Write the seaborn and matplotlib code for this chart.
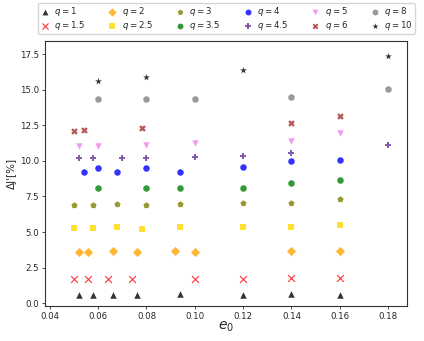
import matplotlib
matplotlib.use("Agg")
import matplotlib.pyplot as plt
import seaborn as sns

# Data (e0 -> Delta J' in %)
e_q1 = [0.052, 0.058, 0.066, 0.076, 0.094, 0.12, 0.14, 0.16]
dj_q1 = [0.60, 0.60, 0.60, 0.60, 0.62, 0.60, 0.65, 0.60]

e_q15 = [0.050, 0.056, 0.064, 0.074, 0.100, 0.12, 0.14, 0.16]
dj_q15 = [1.70, 1.70, 1.70, 1.70, 1.70, 1.70, 1.76, 1.73]

e_q2 = [0.052, 0.056, 0.066, 0.076, 0.092, 0.100, 0.14, 0.16]
dj_q2 = [3.59, 3.59, 3.63, 3.56, 3.63, 3.59, 3.68, 3.68]

e_q25 = [0.050, 0.058, 0.068, 0.078, 0.094, 0.12, 0.14, 0.16]
dj_q25 = [5.25, 5.25, 5.32, 5.23, 5.34, 5.32, 5.32, 5.51]

e_q3 = [0.050, 0.058, 0.068, 0.080, 0.094, 0.12, 0.14, 0.16]
dj_q3 = [6.91, 6.91, 6.96, 6.91, 6.98, 7.03, 7.05, 7.31]

e_q35 = [0.060, 0.080, 0.094, 0.12, 0.14, 0.16]
dj_q35 = [8.09, 8.11, 8.13, 8.11, 8.46, 8.69]

e_q4 = [0.054, 0.060, 0.068, 0.080, 0.094, 0.12, 0.14, 0.16]
dj_q4 = [9.21, 9.51, 9.21, 9.54, 9.21, 9.56, 9.99, 10.06]

e_q45 = [0.052, 0.058, 0.070, 0.080, 0.100, 0.12, 0.14, 0.18]
dj_q45 = [10.22, 10.22, 10.22, 10.22, 10.27, 10.36, 10.55, 11.11]

e_q5 = [0.052, 0.060, 0.080, 0.100, 0.14, 0.16]
dj_q5 = [11.06, 11.06, 11.15, 11.25, 11.43, 11.95]

e_q6 = [0.050, 0.054, 0.078, 0.14, 0.16]
dj_q6 = [12.10, 12.17, 12.33, 12.66, 13.17]

e_q8 = [0.060, 0.080, 0.100, 0.14, 0.18]
dj_q8 = [14.39, 14.35, 14.37, 14.49, 15.05]

e_q10 = [0.060, 0.080, 0.12, 0.18]
dj_q10 = [15.63, 15.89, 16.41, 17.41]

q_labels = ["1", "1.5", "2", "2.5", "3", "3.5", "4", "4.5", "5", "6", "8", "10"]

series = [
    (e_q1, dj_q1, "^", "black"),
    (e_q15, dj_q15, "x", "red"),
    (e_q2, dj_q2, "D", "orange"),
    (e_q25, dj_q25, "s", "gold"),
    (e_q3, dj_q3, "p", "olive"),
    (e_q35, dj_q35, "o", "green"),
    (e_q4, dj_q4, "o", "blue"),
    (e_q45, dj_q45, "P", "rebeccapurple"),
    (e_q5, dj_q5, "v", "violet"),
    (e_q6, dj_q6, "X", "brown"),
    (e_q8, dj_q8, "o", "gray"),
    (e_q10, dj_q10, "*", "black"),
]

sns.set_theme(style="ticks")
plt.rcParams['font.family'] = ['DejaVu Sans']

fig, ax = plt.subplots(figsize=(4.24, 3.41), dpi=100)
fig.subplots_adjust(left=0.106, right=0.961, bottom=0.103, top=0.88)

for (ex, dj, mk, col), ql in zip(series, q_labels):
    size = 22
    if mk == "*":
        size = 26
    if mk in ("x",):
        size = 24
    sns.scatterplot(x=ex, y=dj, marker=mk, color=col, s=size, alpha=0.8,
                    linewidth=0.8 if mk == "x" else 0, ax=ax, label=f"$q = {ql}$")

ax.set_xlim(0.038, 0.188)
ax.set_ylim(-0.2, 18.45)
ax.set_xticks([0.04, 0.06, 0.08, 0.10, 0.12, 0.14, 0.16, 0.18])
ax.set_xticklabels(["0.04", "0.06", "0.08", "0.10", "0.12", "0.14", "0.16", "0.18"])
ax.set_yticks([0.0, 2.5, 5.0, 7.5, 10.0, 12.5, 15.0, 17.5])
ax.tick_params(labelsize=6.2, length=2.5, width=0.6, pad=2)
for sp in ax.spines.values():
    sp.set_linewidth(0.8)
    sp.set_color("#333333")

ax.set_xlabel("$e_0$", fontsize=10, labelpad=-1)
ax.set_ylabel("ΔJ'[%]", fontsize=7.5, labelpad=2)

ax.legend(ncol=6, loc="lower center", bbox_to_anchor=(0.5, 1.01),
          fontsize=6.2, frameon=True, edgecolor="0.8", fancybox=True,
          handletextpad=0.5, columnspacing=2.55, borderpad=0.25,
          labelspacing=0.05, handlelength=1.2, markerscale=0.9,
          borderaxespad=0.5)

plt.savefig("out.png", dpi=100)
